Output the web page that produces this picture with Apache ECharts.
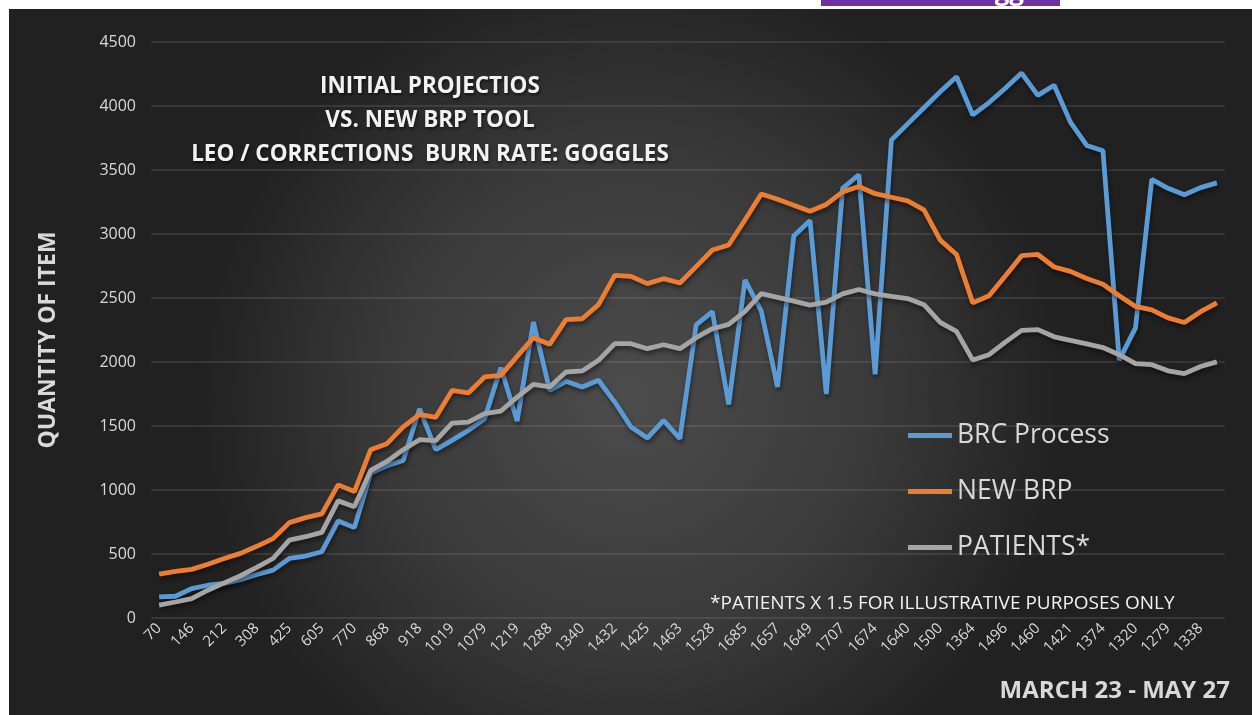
<!DOCTYPE html>
<html>
<head>
<meta charset="utf-8">
<script src="https://cdn.jsdelivr.net/npm/echarts@6/dist/echarts.min.js"></script>
<style>
html,body{margin:0;padding:0;background:#fff;}
#chart{width:1252px;height:715px;}
</style>
</head>
<body>
<div id="chart"></div>
<script>
// Category labels (only every other one is printed in the original; unprinted ones left blank)
const categories = [
  '70','', '146','', '212','', '308','', '425','', '605','', '770','', '868','', '918','',
  '1019','', '1079','', '1219','', '1288','', '1340','', '1432','', '1425','', '1463','',
  '1528','', '1685','', '1657','', '1649','', '1707','', '1674','', '1640','', '1500','',
  '1364','', '1496','', '1460','', '1421','', '1374','', '1320','', '1279','', '1338',''
];

const brcProcess = [
  165, 170, 230, 256, 270, 300, 340, 374, 465, 484, 518, 758, 706, 1132, 1189, 1231, 1634,
  1315, 1388, 1466, 1557, 1956, 1539, 2312, 1778, 1849, 1805, 1857, 1687, 1492, 1406, 1544,
  1401, 2290, 2393, 1669, 2641, 2400, 1805, 2985, 3105, 1750, 3357, 3463, 1903, 3734, 3860,
  3986, 4111, 4229, 3930, 4027, 4139, 4257, 4083, 4162, 3874, 3692, 3650, 2015, 2267, 3427,
  3357, 3307, 3362, 3399
];

const newBrp = [
  342, 365, 380, 420, 465, 505, 560, 620, 745, 784, 813, 1040, 988, 1315, 1362, 1493, 1590,
  1568, 1778, 1758, 1883, 1896, 2044, 2190, 2138, 2331, 2338, 2448, 2677, 2669, 2612, 2651,
  2617, 2745, 2875, 2914, 3109, 3312, 3271, 3225, 3178, 3231, 3329, 3371, 3315, 3287, 3259,
  3189, 2952, 2840, 2462, 2518, 2672, 2831, 2840, 2742, 2708, 2652, 2608, 2518, 2434, 2407,
  2345, 2309, 2393, 2462
];

const patients = [
  100, 125, 152, 217, 274, 330, 395, 465, 609, 635, 669, 915, 870, 1153, 1223, 1315, 1393,
  1385, 1523, 1531, 1596, 1617, 1726, 1825, 1805, 1922, 1930, 2013, 2143, 2143, 2104, 2135,
  2104, 2190, 2260, 2294, 2395, 2534, 2505, 2475, 2445, 2468, 2532, 2566, 2532, 2513, 2496,
  2448, 2309, 2239, 2015, 2057, 2155, 2247, 2253, 2197, 2169, 2141, 2113, 2057, 1987, 1979,
  1931, 1909, 1965, 2001
];

const seriesNames = ['BRC Process', 'NEW BRP', 'PATIENTS*'];
const seriesColors = ['#5b9bd5', '#ed7d31', '#a5a5a5'];
const titleLines = ['INITIAL PROJECTIOS', 'VS. NEW BRP TOOL', 'LEO / CORRECTIONS  BURN RATE: GOGGLES'];
const footnote = '*PATIENTS X 1.5 FOR ILLUSTRATIVE PURPOSES ONLY';
const dateRange = 'MARCH 23 - MAY 27';
const yAxisName = 'QUANTITY OF ITEM';
const bannerText = 'Goggles';

const chart = echarts.init(document.getElementById('chart'), null, {renderer: 'canvas'});

const FONT = '"Open Sans", "Liberation Sans", sans-serif';
const shadowText = {textShadowColor: 'rgba(0,0,0,0.6)', textShadowBlur: 3, textShadowOffsetX: 1, textShadowOffsetY: 2};

function makeSeries(name, data, color) {
  return {
    name: name,
    type: 'line',
    data: data,
    symbol: 'none',
    smooth: false,
    color: color,
    lineStyle: {
      width: 4.8,
      color: color,
      shadowColor: 'rgba(0,0,0,0.45)',
      shadowBlur: 4,
      shadowOffsetX: 1,
      shadowOffsetY: 3
    },
    z: 3
  };
}

function titleText(text, y) {
  return {
    type: 'text',
    z: 10,
    style: Object.assign({
      text: text, x: 430, y: y, textAlign: 'center', textVerticalAlign: 'middle',
      fill: '#f2f2f2', font: 'bold 22.5px ' + FONT
    }, shadowText)
  };
}

const graphics = [
  {
    type: 'rect',
    z: -100,
    silent: true,
    shape: {x: 9, y: 9, width: 1243, height: 706},
    style: {
      fill: new echarts.graphic.RadialGradient(0.5, 0.55, 0.62, [
        {offset: 0, color: '#4c4c4c'},
        {offset: 0.55, color: '#3a3a3a'},
        {offset: 1, color: '#212121'}
      ])
    }
  },
  {
    type: 'rect',
    z: -100,
    silent: true,
    shape: {x: 821, y: 0, width: 239, height: 6},
    style: {fill: '#7030a0'}
  },
  {
    type: 'text',
    z: -99,
    silent: true,
    style: {
      text: bannerText, x: 1010, y: 6, textAlign: 'center', textVerticalAlign: 'bottom',
      fill: '#ffffff', font: 'bold 26px ' + FONT
    }
  },
  titleText(titleLines[0], 87),
  titleText(titleLines[1], 121),
  titleText(titleLines[2], 155),
  {
    type: 'text',
    z: 10,
    style: {
      text: yAxisName, x: 0, y: 0, textAlign: 'center', textVerticalAlign: 'middle',
      fill: '#d9d9d9', font: 'bold 23px ' + FONT
    },
    x: 48, y: 340, rotation: Math.PI / 2
  },
  {
    type: 'text',
    z: 10,
    style: {
      text: footnote, x: 710, y: 604, textAlign: 'left', textVerticalAlign: 'middle',
      fill: '#f2f2f2', font: '19px ' + FONT
    }
  },
  {
    type: 'text',
    z: 10,
    style: {
      text: dateRange, x: 1230, y: 691, textAlign: 'right', textVerticalAlign: 'middle',
      fill: '#d9d9d9', font: 'bold 24px ' + FONT
    }
  }
];

const option = {
  animation: false,
  backgroundColor: '#ffffff',
  graphic: graphics,
  grid: {left: 151, right: 27, top: 42, bottom: 97, containLabel: false},
  legend: {
    orient: 'vertical',
    left: 903,
    top: 417,
    icon: 'rect',
    itemWidth: 44,
    itemHeight: 5,
    itemGap: 29,
    data: seriesNames,
    textStyle: {color: '#d9d9d9', fontSize: 26.5, fontFamily: FONT}
  },
  xAxis: {
    type: 'category',
    data: categories,
    boundaryGap: true,
    axisLine: {show: false},
    axisTick: {show: false},
    axisLabel: {
      interval: 1,
      rotate: 45,
      color: '#d9d9d9',
      fontSize: 15,
      fontFamily: FONT,
      margin: 8
    },
    splitLine: {show: false}
  },
  yAxis: {
    type: 'value',
    min: 0,
    max: 4500,
    interval: 500,
    axisLine: {show: false},
    axisTick: {show: false},
    axisLabel: {
      color: '#d9d9d9', fontSize: 16, fontFamily: FONT, margin: 15,
      formatter: function (v) { return String(v); }
    },
    splitLine: {lineStyle: {color: 'rgba(255,255,255,0.13)', width: 1.5}}
  },
  series: [
    makeSeries(seriesNames[0], brcProcess, seriesColors[0]),
    makeSeries(seriesNames[1], newBrp, seriesColors[1]),
    makeSeries(seriesNames[2], patients, seriesColors[2])
  ]
};

chart.setOption(option);
</script>
</body>
</html>
